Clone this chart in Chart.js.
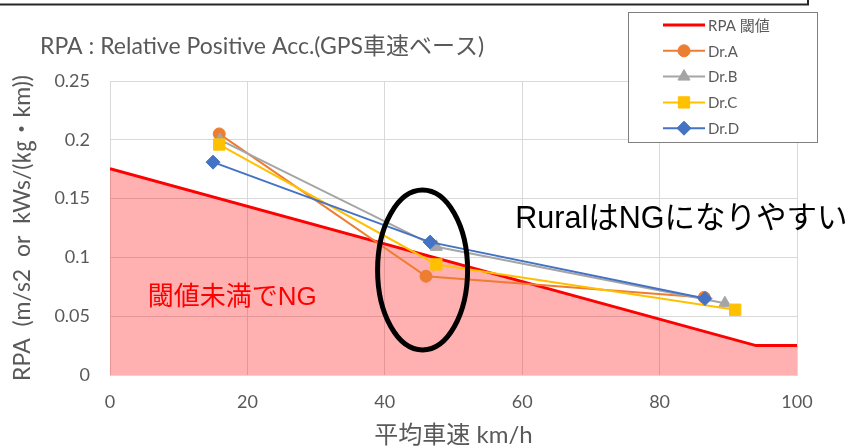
<!DOCTYPE html>
<html>
<head>
<meta charset="utf-8">
<script src="https://cdn.jsdelivr.net/npm/chart.js@4/dist/chart.umd.min.js"></script>
<style>
  html, body { margin: 0; padding: 0; background: #fff; }
  #wrap { width: 849px; height: 447px; position: relative; }
</style>
</head>
<body>
<div id="wrap"><canvas id="chartCanvas"></canvas></div>
<script>
// RPA 閾値 (平均車速 → RPA)
const limitSpeed = [0, 94.05, 100];
const limitRpa = [0.1755, 0.025, 0.025];

// 各ドライバーの (平均車速, RPA)
const drivers = ['Dr.A', 'Dr.B', 'Dr.C', 'Dr.D'];
const speedA = [15.9, 46.0, 86.5];
const rpaA = [0.205, 0.084, 0.066];
const speedB = [16.0, 47.5, 89.5];
const rpaB = [0.200, 0.109, 0.061];
const speedC = [15.9, 47.5, 91.0];
const rpaC = [0.196, 0.094, 0.0555];
const speedD = [15.0, 46.6, 86.6];
const rpaD = [0.181, 0.113, 0.065];

const xTicks = [0, 20, 40, 60, 80, 100];
const yTicks = [0, 0.05, 0.1, 0.15, 0.2, 0.25];

const FONT = "Lato, 'Noto Sans CJK JP', sans-serif";
const GREY = '#595959';

function pts(xs, ys) {
  return xs.map((x, i) => ({ x: x, y: ys[i] }));
}

function driverSet(label, xs, ys, color, style, radius, order) {
  return {
    label: label,
    data: pts(xs, ys),
    showLine: true,
    borderColor: color,
    backgroundColor: color,
    borderWidth: 2,
    pointStyle: style,
    pointRadius: radius,
    pointHoverRadius: radius,
    pointBorderWidth: 1,
    order: order
  };
}

// 注釈・凡例・タイトルを描くプラグイン
const overlay = {
  id: 'overlay',
  afterDraw(chart) {
    const ctx = chart.ctx;
    const xs = chart.scales.x, ys = chart.scales.y;
    ctx.save();

    // 上の切れた枠
    ctx.strokeStyle = '#262626';
    ctx.lineWidth = 2;
    ctx.beginPath();
    ctx.moveTo(-5, 4.5);
    ctx.lineTo(808, 4.5);
    ctx.lineTo(808, -5);
    ctx.stroke();

    // タイトル
    ctx.fillStyle = GREY;
    ctx.font = '23px ' + FONT;
    ctx.textBaseline = 'middle';
    ctx.textAlign = 'left';
    ctx.fillText('RPA : Relative Positive Acc.(GPS車速ベース)', 40, 47);

    // 楕円
    const cx = xs.getPixelForValue(45.5), cy = ys.getPixelForValue(0.0893);
    const rx = xs.getPixelForValue(45.5 + 6.55) - cx;
    const ry = cy - ys.getPixelForValue(0.0893 + 0.068);
    ctx.strokeStyle = '#000';
    ctx.lineWidth = 5;
    ctx.beginPath();
    ctx.ellipse(cx, cy, rx, ry, 0, 0, Math.PI * 2);
    ctx.stroke();

    // テキスト注釈
    ctx.fillStyle = '#ff0000';
    ctx.font = "26px 'Liberation Sans', 'Noto Sans CJK JP', sans-serif";
    ctx.fillText('閾値未満でNG', xs.getPixelForValue(5.5), ys.getPixelForValue(0.066));
    ctx.fillStyle = '#000';
    ctx.font = "30.5px 'Liberation Sans', 'Noto Sans CJK JP', sans-serif";
    ctx.fillText('RuralはNGになりやすい', xs.getPixelForValue(59), ys.getPixelForValue(0.132));

    // 凡例
    ctx.fillStyle = '#fff';
    ctx.fillRect(628, 12, 189, 130);
    ctx.strokeStyle = '#7f7f7f';
    ctx.lineWidth = 1;
    ctx.strokeRect(628.5, 12.5, 189, 130);
    ctx.font = '15px ' + FONT;
    chart.data.datasets.forEach((ds, i) => {
      const y = 25 + i * 25.8;
      ctx.strokeStyle = ds.borderColor;
      ctx.lineWidth = i === 0 ? 3 : 2;
      ctx.beginPath();
      ctx.moveTo(663, y);
      ctx.lineTo(705, y);
      ctx.stroke();
      if (i > 0) {
        ctx.fillStyle = ds.backgroundColor;
        ctx.lineWidth = 1;
        Chart.helpers.drawPoint(ctx, {
          pointStyle: ds.pointStyle, radius: ds.pointRadius, rotation: 0, borderWidth: 1
        }, 684, y);
      }
      ctx.fillStyle = GREY;
      ctx.fillText(ds.label, 708, y + 1);
    });

    ctx.restore();
  }
};

document.addEventListener('DOMContentLoaded', () => {
  const ctx = document.getElementById('chartCanvas').getContext('2d');

  const datasets = [
    {
      label: 'RPA 閾値',
      data: pts(limitSpeed, limitRpa),
      showLine: true,
      borderColor: '#ff0000',
      backgroundColor: 'rgba(255, 0, 0, 0.31)',
      borderWidth: 3,
      pointRadius: 0,
      fill: 'origin',
      order: 10
    },
    driverSet(drivers[0], speedA, rpaA, '#ED7D31', 'circle', 6, 4),
    driverSet(drivers[1], speedB, rpaB, '#A5A5A5', 'triangle', 7, 3),
    driverSet(drivers[2], speedC, rpaC, '#FFC000', 'rect', 8, 2),
    driverSet(drivers[3], speedD, rpaD, '#4472C4', 'rectRot', 7, 1)
  ];

  new Chart(ctx, {
    type: 'scatter',
    data: { datasets: datasets },
    options: {
      responsive: true,
      maintainAspectRatio: false,
      animation: false,
      layout: { padding: { top: 81, right: 52, left: 0, bottom: 0 } },
      plugins: {
        legend: { display: false },
        title: { display: false },
        tooltip: { enabled: false }
      },
      scales: {
        x: {
          type: 'linear',
          min: xTicks[0],
          max: xTicks[xTicks.length - 1],
          afterFit: s => { s.height = 72; },
          afterBuildTicks: s => { s.ticks = xTicks.map(v => ({ value: v })); },
          grid: { color: '#d9d9d9', drawTicks: false },
          border: { color: '#d9d9d9' },
          ticks: { color: GREY, font: { family: FONT, size: 18 }, padding: 16 },
          title: {
            display: true,
            text: '平均車速 km/h',
            color: GREY,
            font: { family: FONT, size: 24, lineHeight: 1 },
            padding: { top: 0, bottom: 0 }
          }
        },
        y: {
          min: yTicks[0],
          max: yTicks[yTicks.length - 1],
          afterFit: s => { s.width = 110; },
          afterBuildTicks: s => { s.ticks = yTicks.map(v => ({ value: v })); },
          grid: { color: '#d9d9d9', drawTicks: false },
          border: { color: '#d9d9d9' },
          ticks: {
            color: GREY,
            font: { family: FONT, size: 18 },
            padding: 20,
            callback: v => String(Number(v.toFixed(2)))
          },
          title: {
            display: true,
            text: 'RPA  (m/s2  or  kWs/(㎏・km))',
            color: GREY,
            font: { family: FONT, size: 23, lineHeight: 1 },
            padding: { top: 11, bottom: 0 }
          }
        }
      }
    },
    plugins: [overlay]
  });
});
</script>
</body>
</html>
